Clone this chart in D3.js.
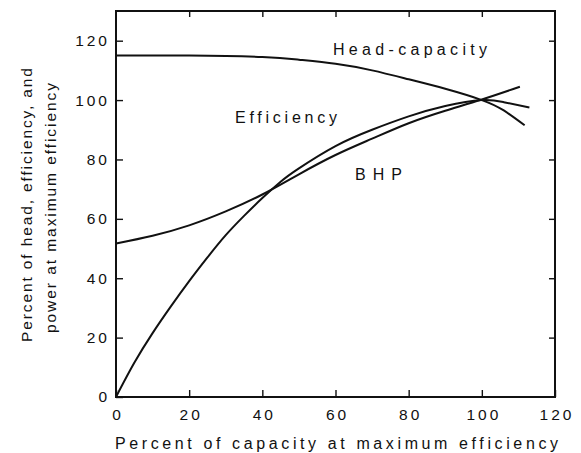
<!DOCTYPE html>
<html>
<head>
<meta charset="utf-8">
<script src="https://cdn.jsdelivr.net/npm/d3@7"></script>
<style>
  html, body { margin: 0; padding: 0; background: #fff; }
  svg { display: block; }
  text { font-family: "Liberation Sans", Arial, sans-serif; fill: #111; }
</style>
</head>
<body>
<svg id="chart" width="581" height="453"></svg>
<script>
// ---- Data ----
const xTicks = [0, 20, 40, 60, 80, 100, 120];
const yTicks = [0, 20, 40, 60, 80, 100, 120];

const headX = [0, 20, 40, 50, 60, 70, 80, 90, 100, 106, 111.7];
const headY = [115, 115, 114.5, 113.6, 112.2, 110, 107, 103.8, 100, 96.5, 91.5];

const effX = [0, 5, 10, 15, 20, 25, 30, 35, 40, 45, 50, 60, 70, 80, 90, 100, 106, 113];
const effY = [0, 11.5, 21.5, 30.5, 39, 47, 54.5, 61, 67, 72.5, 77, 84.5, 90, 94.5, 98, 100, 99.3, 97.5];

const bhpX = [0, 10, 20, 30, 40, 50, 60, 70, 80, 90, 100, 110.4];
const bhpY = [51.7, 54.3, 57.8, 62.5, 68.2, 75, 81.5, 87, 92.2, 96.4, 100.2, 104.5];

const seriesNames = ["Head-capacity", "Efficiency", "BHP"];

// ---- Layout ----
const svg = d3.select("#chart");
const pLeft = 116, pRight = 555, pTop = 11, pBottom = 397;

const x = d3.scaleLinear().domain([0, 120]).range([pLeft, pRight]);
const y = d3.scaleLinear().domain([0, 130]).range([pBottom, pTop]);

const ink = "#111";

// Frame
svg.append("rect")
  .attr("x", pLeft).attr("y", pTop)
  .attr("width", pRight - pLeft).attr("height", pBottom - pTop)
  .attr("fill", "none").attr("stroke", ink).attr("stroke-width", 2);

// Bottom axis (inward ticks)
const gx = svg.append("g").attr("transform", `translate(0,${pBottom})`)
  .call(d3.axisBottom(x).tickValues(xTicks).tickSize(-7).tickPadding(12));
// Left axis
const gy = svg.append("g").attr("transform", `translate(${pLeft},0)`)
  .call(d3.axisLeft(y).tickValues(yTicks).tickSize(-7).tickPadding(10));
// Top axis (ticks only)
const gt = svg.append("g").attr("transform", `translate(0,${pTop})`)
  .call(d3.axisTop(x).tickValues(xTicks.slice(1, -1)).tickSize(-6).tickFormat(""));
// Right axis (ticks only)
const gr = svg.append("g").attr("transform", `translate(${pRight},0)`)
  .call(d3.axisRight(y).tickValues(yTicks.slice(1)).tickSize(-6).tickFormat(""));

[gx, gy, gt, gr].forEach(g => {
  g.select(".domain").remove();
  g.selectAll(".tick line").attr("stroke", ink).attr("stroke-width", 1.4);
  g.selectAll(".tick text")
    .attr("font-size", 15.5)
    .attr("fill", ink)
    .style("letter-spacing", "3px")
    .attr("font-family", "'Liberation Sans', Arial, sans-serif");
});
gy.selectAll(".tick text").attr("dx", "4");
gx.selectAll(".tick text").attr("dx", "1.5");

// Curves
const line = d3.line().x(d => x(d[0])).y(d => y(d[1])).curve(d3.curveNatural);
const zip = (a, b) => a.map((v, i) => [v, b[i]]);
[zip(headX, headY), zip(effX, effY), zip(bhpX, bhpY)].forEach(pts => {
  svg.append("path").datum(pts)
    .attr("d", line)
    .attr("fill", "none").attr("stroke", ink)
    .attr("stroke-width", 2).attr("stroke-linejoin", "round");
});

// Curve labels
const labelPos = [[333, 55, 154], [235, 123, 102], [355, 180, 47]];
seriesNames.forEach((name, i) => {
  svg.append("text")
    .attr("x", labelPos[i][0]).attr("y", labelPos[i][1])
    .attr("font-size", 16)
    .attr("textLength", labelPos[i][2]).attr("lengthAdjust", "spacing")
    .text(name);
});

// Axis titles
svg.append("text")
  .attr("x", 115).attr("y", 449)
  .attr("font-size", 16)
  .attr("textLength", 443).attr("lengthAdjust", "spacing")
  .text("Percent of capacity at maximum efficiency");

svg.append("text")
  .attr("transform", "translate(32,205) rotate(-90)")
  .attr("text-anchor", "middle")
  .attr("font-size", 15.5)
  .attr("textLength", 274).attr("lengthAdjust", "spacing")
  .text("Percent of head, efficiency, and");

svg.append("text")
  .attr("transform", "translate(56,208) rotate(-90)")
  .attr("text-anchor", "middle")
  .attr("font-size", 15.5)
  .attr("textLength", 250).attr("lengthAdjust", "spacing")
  .text("power at maximum efficiency");
</script>
</body>
</html>
